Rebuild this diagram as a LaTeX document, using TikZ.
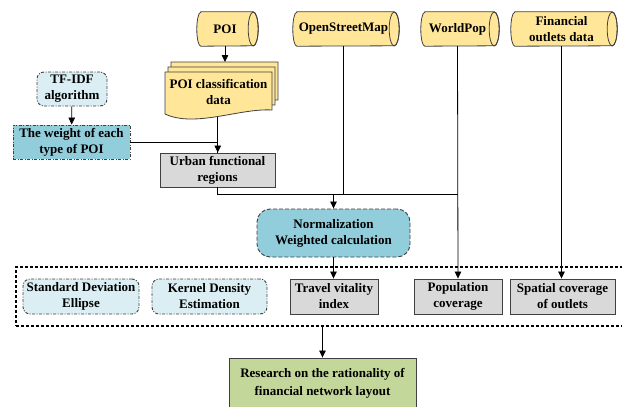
\documentclass[tikz,border=0pt]{standalone}
\usepackage{fontspec}
\setmainfont{Liberation Serif}
\usetikzlibrary{arrows.meta,calc}
\pgfdeclarelayer{background}
\pgfsetlayers{background,main}
\definecolor{cylY}{HTML}{FFE699}
\definecolor{grayF}{HTML}{D9D9D9}
\definecolor{lblue}{HTML}{DAEEF3}
\definecolor{mblue}{HTML}{92CDDC}
\definecolor{greenF}{HTML}{C4D79B}
\definecolor{edge}{HTML}{404040}
\tikzset{
  txt/.style={font=\fontsize{13}{16}\selectfont\bfseries, align=center, inner sep=0pt},
  cylnode/.style={txt, minimum height=34pt},
  cylout/.style={draw=edge, fill=cylY, line width=0.8pt},
  docout/.style={draw=edge, fill=cylY, line width=0.8pt},
  graybox/.style={txt, draw=edge, fill=grayF, line width=0.9pt, minimum height=34pt},
  dashdotbox/.style={txt, draw=edge, line width=0.9pt, dash pattern=on 3pt off 1.5pt on 1pt off 1.5pt},
  lightround/.style={dashdotbox, fill=lblue, rounded corners=7pt},
  normbox/.style={txt, draw=edge, fill=mblue, line width=0.9pt, dash pattern=on 4pt off 2pt, rounded corners=13pt},
  framebox/.style={draw=black, line width=1.1pt, dash pattern=on 3pt off 2pt, inner sep=0pt},
  resbox/.style={draw=edge, fill=greenF, line width=0.9pt, align=center, inner sep=0pt,
    font=\fontsize{13}{18}\selectfont\bfseries},
  conn/.style={line width=0.8pt, draw=black},
  arr/.style={conn, -{Triangle[length=7pt,width=6.5pt]}}
}
\newcommand{\cylshape}[1]{%
  \begin{pgfonlayer}{background}
  \draw[cylout] ([xshift=4pt]#1.north west) -- (#1.north east)
     arc[start angle=90,end angle=-90,x radius=5pt,y radius=17pt]
     -- ([xshift=4pt]#1.south west)
     arc[start angle=270,end angle=90,x radius=4pt,y radius=17pt] -- cycle;
  \draw[cylout, fill=none] (#1.east) ellipse[x radius=5pt,y radius=17pt];
  \end{pgfonlayer}}
\begin{document}
\begin{tikzpicture}[x=1pt,y=-1pt]
\useasboundingbox (0,0) rectangle (622,407);
\clip (0,0) rectangle (622,407);
\begin{pgfonlayer}{background}
\fill[white] (0,0) rectangle (622,407);
\end{pgfonlayer}

% data sources
\node[cylnode, minimum width=56pt]  (poi) at (225,29)   {POI};
\node[cylnode, minimum width=101pt] (osm) at (343.5,29) {OpenStreetMap};
\node[cylnode, minimum width=73pt]  (wp)  at (457.5,29) {WorldPop};
\node[cylnode, minimum width=101pt] (fin) at (561.5,29) {Financial\\outlets data};
\cylshape{poi}\cylshape{osm}\cylshape{wp}\cylshape{fin}

% POI classification data (multi-document)
\draw[docout, shift={(6,-10)}] (165,72) -- (272,72) -- (272,110) .. controls (240,108) and (195,128) .. (165,114) -- cycle;
\draw[docout, shift={(3,-5)}] (165,72) -- (272,72) -- (272,110) .. controls (240,108) and (195,128) .. (165,114) -- cycle;
\draw[docout] (165,72) -- (272,72) -- (272,110) .. controls (240,108) and (195,128) .. coordinate[pos=0.5] (pcdb) (165,114) -- cycle;
\coordinate (pcdtop) at (225,62);
\node[txt] (pcd) at (218.5,92) {POI classification\\data};

% left branch
\node[lightround, minimum width=70pt, minimum height=34pt] (tfidf) at (72,89) {TF-IDF\\algorithm};
\node[dashdotbox, fill=mblue, minimum width=117pt, minimum height=34pt] (weight) at (71.5,142) {The weight of each\\type of POI};
\node[graybox, minimum width=115pt] (urban) at (217.5,170) {Urban functional\\regions};

% normalization
\node[normbox, minimum width=153pt, minimum height=48pt] (norm) at (333.5,233) {Normalization\\Weighted calculation};

% frame and indicators
\node[framebox, minimum width=624pt, minimum height=59pt] (frame) at (328,296.5) {};
\node[lightround, minimum width=116pt, minimum height=35pt] (sde) at (81,296.5) {Standard Deviation\\Ellipse};
\node[lightround, minimum width=115pt, minimum height=35pt] (kde) at (209.5,296.5) {Kernel Density\\Estimation};
\node[graybox, minimum width=88pt, minimum height=35pt] (travel) at (334,296.5) {Travel vitality\\index};
\node[graybox, minimum width=88pt, minimum height=35pt] (pop) at (458,296.5) {Population\\coverage};
\node[graybox, minimum width=105pt, minimum height=35pt] (spat) at (562.5,296.5) {Spatial coverage\\of outlets};

% research
\node[resbox, minimum width=187pt, minimum height=51pt] (res) at (322.5,383.5) {Research on the rationality of\\financial network layout};

% connectors
\draw[arr] (poi.south) -- (pcdtop);
\draw[arr] (tfidf) -- (weight);
\draw[conn] (weight.east) -| (urban.north);
\draw[arr] (pcdb) -- (pcdb |- urban.north);
\coordinate (j1) at ($(urban.south)+(0,7)$);
\draw[conn] (urban.south) -- (j1) -- (j1 -| wp.south);
\draw[conn] (osm.south) -- (osm.south |- j1);
\draw[arr] (norm.north |- j1) -- (norm.north);
\draw[arr] (wp.south) -- (pop.north);
\draw[arr] (fin.south) -- (fin.south |- spat.north);
\draw[arr] (norm.south) -- (norm.south |- travel.north);
\draw[arr] (frame.south -| res.north) -- (res.north);
\end{tikzpicture}
\end{document}
